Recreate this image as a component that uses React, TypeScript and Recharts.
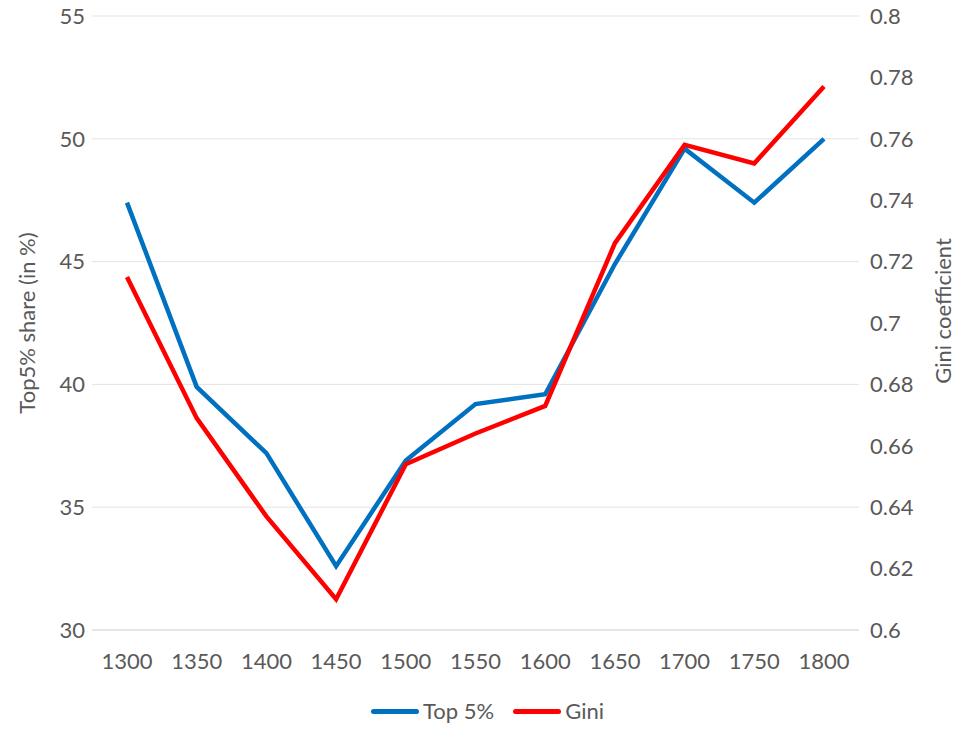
import React from "react";
import { LineChart, Line, XAxis, YAxis, CartesianGrid, Legend } from "recharts";

const years = [1300, 1350, 1400, 1450, 1500, 1550, 1600, 1650, 1700, 1750, 1800];
const top5Share = [47.4, 39.9, 37.2, 32.6, 36.9, 39.2, 39.6, 44.9, 49.6, 47.4, 50.0];
const giniCoef = [0.715, 0.669, 0.637, 0.61, 0.654, 0.664, 0.673, 0.726, 0.758, 0.752, 0.777];

const leftTicks = [30, 35, 40, 45, 50, 55];
const rightTicks = [0.6, 0.62, 0.64, 0.66, 0.68, 0.7, 0.72, 0.74, 0.76, 0.78, 0.8];

const BLUE = "#0070C0";
const RED = "#FF0000";
const TEXT = "#595959";
const FONT = "Lato, 'Open Sans', sans-serif";

const rows = years.map((y, i) => ({ year: y, top5: top5Share[i], gini: giniCoef[i] }));

const legendItems = [
  { name: "Top 5%", color: BLUE },
  { name: "Gini", color: RED },
];

function LegendBox() {
  return (
    <div
      style={{
        height: 60,
        boxSizing: "border-box",
        paddingTop: 15,
        display: "flex",
        justifyContent: "center",
        alignItems: "flex-start",
        gap: 19,
        fontFamily: FONT,
        fontSize: 22,
        color: TEXT,
        lineHeight: "26px",
      }}
    >
      {legendItems.map((it) => (
        <div key={it.name} style={{ display: "flex", alignItems: "center" }}>
          <span style={{ display: "inline-block", width: 48, height: 5, borderRadius: 3, background: it.color, marginRight: 4 }} />
          <span>{it.name}</span>
        </div>
      ))}
    </div>
  );
}

export default function App() {
  return (
    <div style={{ position: "absolute", left: 0, top: 0, background: "#fff" }}>
      <LineChart width={975} height={743} data={rows} margin={{ top: 16, right: 0, bottom: 0, left: 0 }}>
        <CartesianGrid vertical={false} stroke="#e3e3e3" strokeWidth={1} yAxisId="left" />
        <XAxis
          dataKey="year"
          height={53}
          padding={{ left: 35, right: 35 }}
          tickLine={false}
          tickSize={0}
          tickMargin={23}
          axisLine={{ stroke: "#d9d9d9" }}
          tick={{ fill: TEXT, fontSize: 22, fontFamily: FONT }}
        />
        <YAxis
          yAxisId="left"
          width={92}
          domain={[30, 55]}
          ticks={leftTicks}
          axisLine={false}
          tickLine={false}
          tickSize={0}
          tickMargin={7}
          tick={{ fill: TEXT, fontSize: 22, fontFamily: FONT }}
          label={{
            value: "Top5% share (in %)",
            angle: -90,
            position: "center",
            dx: -19,
            fill: TEXT,
            fontSize: 22,
            fontFamily: FONT,
          }}
        />
        <YAxis
          yAxisId="right"
          orientation="right"
          width={116}
          domain={[0.6, 0.8]}
          ticks={rightTicks}
          axisLine={false}
          tickLine={false}
          tickSize={0}
          tickMargin={11}
          tick={{ fill: TEXT, fontSize: 22, fontFamily: FONT }}
          label={{
            value: "Gini coefficient",
            angle: -90,
            position: "center",
            dx: 26,
            dy: -12,
            fill: TEXT,
            fontSize: 22,
            fontFamily: FONT,
          }}
        />
        <Legend verticalAlign="bottom" content={() => <LegendBox />} />
        <Line
          yAxisId="left"
          type="linear"
          dataKey="top5"
          name="Top 5%"
          stroke={BLUE}
          strokeWidth={4.5}
          dot={false}
          isAnimationActive={false}
        />
        <Line
          yAxisId="right"
          type="linear"
          dataKey="gini"
          name="Gini"
          stroke={RED}
          strokeWidth={4.5}
          dot={false}
          isAnimationActive={false}
        />
      </LineChart>
    </div>
  );
}
